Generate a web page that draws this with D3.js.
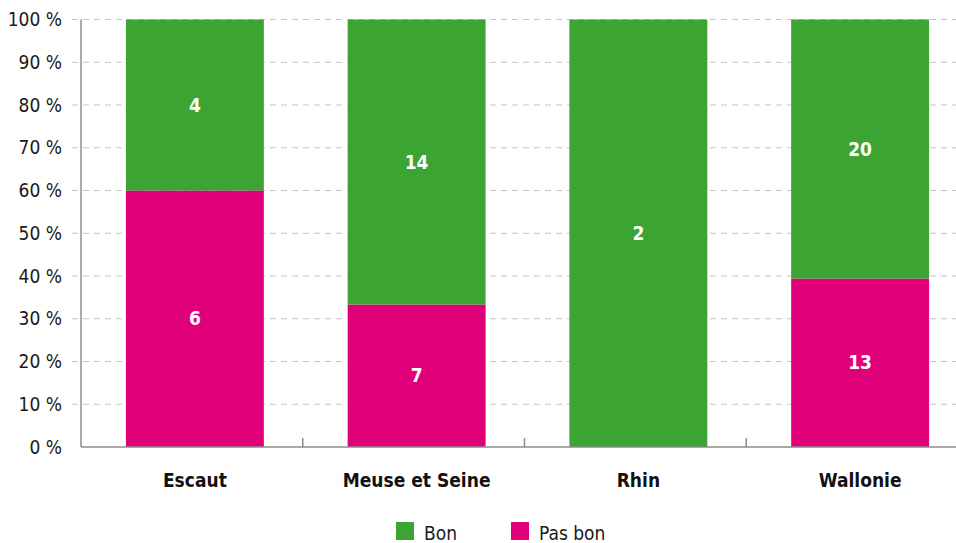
<!DOCTYPE html>
<meta charset="utf-8">
<style>
body { margin: 0; background: #fff; }
text { font-family: "Liberation Sans Narrow", "DejaVu Sans Condensed", "DejaVu Sans", sans-serif; font-stretch: condensed; }
.grid line { stroke: #c4c4c4; stroke-dasharray: 6,5; stroke-width: 1px; }
</style>
<body>
<script src="https://d3js.org/d3.v7.min.js"></script>
<script>

// data
var bassins = ["Escaut", "Meuse et Seine", "Rhin", "Wallonie"];
var bon = [4, 14, 2, 20];
var pasBon = [6, 7, 0, 13];
var yTicks = [0, 10, 20, 30, 40, 50, 60, 70, 80, 90, 100];

var W = 956, H = 543;
var plotLeft = 81, plotTop = 19.5, plotBottom = 447;

var svg = d3.select("body").append("svg")
    .attr("width", W)
    .attr("height", H);

var x = d3.scaleBand().domain(bassins).range([84, 971]).paddingInner(0.378).paddingOuter(0.189);
var y = d3.scaleLinear().domain([0, 100]).range([plotBottom, plotTop]);

// gridlines
svg.append("g").attr("class", "grid")
  .selectAll("line").data(yTicks.slice(1)).enter().append("line")
    .attr("x1", 72).attr("x2", W)
    .attr("y1", function(d) { return y(d); })
    .attr("y2", function(d) { return y(d); });

// y labels
svg.append("g").selectAll("text").data(yTicks).enter().append("text")
    .attr("x", 62)
    .attr("y", function(d) { return y(d); })
    .attr("dy", "0.35em")
    .attr("text-anchor", "end")
    .style("font-size", "19px")
    .style("fill", "#1a1a1a")
    .text(function(d) { return d + " %"; });

// stacked bars
var rows = bassins.map(function(b, i) {
  var tot = bon[i] + pasBon[i];
  return {name: b, pb: pasBon[i] / tot * 100, b: bon[i] / tot * 100, nb: bon[i], npb: pasBon[i]};
});

var g = svg.append("g");
rows.forEach(function(d) {
  if (d.npb > 0) {
    g.append("rect")
      .attr("x", x(d.name)).attr("width", x.bandwidth())
      .attr("y", y(d.pb)).attr("height", y(0) - y(d.pb))
      .attr("fill", "#e0007a");
    g.append("text")
      .attr("x", x(d.name) + x.bandwidth() / 2)
      .attr("y", y(d.pb / 2)).attr("dy", "0.35em")
      .attr("text-anchor", "middle")
      .style("font-size", "19px").style("font-weight", "bold").style("fill", "#fff")
      .text(d.npb);
  }
  g.append("rect")
    .attr("x", x(d.name)).attr("width", x.bandwidth())
    .attr("y", y(100)).attr("height", y(d.pb) - y(100))
    .attr("fill", "#3ba432");
  g.append("text")
    .attr("x", x(d.name) + x.bandwidth() / 2)
    .attr("y", y(d.pb + d.b / 2)).attr("dy", "0.35em")
    .attr("text-anchor", "middle")
    .style("font-size", "19px").style("font-weight", "bold").style("fill", "#fff")
    .text(d.nb);
});

// axes lines
svg.append("line").attr("x1", plotLeft).attr("x2", plotLeft).attr("y1", plotTop).attr("y2", plotBottom)
    .attr("stroke", "#8c8c8c").attr("stroke-width", 1.5);
svg.append("line").attr("x1", plotLeft).attr("x2", W).attr("y1", plotBottom).attr("y2", plotBottom)
    .attr("stroke", "#8c8c8c").attr("stroke-width", 1.5);

// category separators
svg.append("g").selectAll("line").data(bassins.slice(1)).enter().append("line")
    .attr("x1", function(d) { return x(d) - x.step() * x.paddingInner() / 2 - 3; })
    .attr("x2", function(d) { return x(d) - x.step() * x.paddingInner() / 2 - 3; })
    .attr("y1", plotBottom - 9).attr("y2", plotBottom)
    .attr("stroke", "#8c8c8c").attr("stroke-width", 1.5);

// category labels
svg.append("g").selectAll("text").data(bassins).enter().append("text")
    .attr("x", function(d) { return x(d) + x.bandwidth() / 2; })
    .attr("y", 487)
    .attr("text-anchor", "middle")
    .style("font-size", "19px").style("font-weight", "bold").style("fill", "#111")
    .text(function(d) { return d; });

// legend
var legend = [{label: "Bon", color: "#3ba432", x: 396}, {label: "Pas bon", color: "#e0007a", x: 511}];
legend.forEach(function(l) {
  svg.append("rect").attr("x", l.x).attr("y", 522).attr("width", 18).attr("height", 18).attr("fill", l.color);
  svg.append("text").attr("x", l.x + 28).attr("y", 540)
    .style("font-size", "19px").style("fill", "#1a1a1a").text(l.label);
});

</script>
</body>
